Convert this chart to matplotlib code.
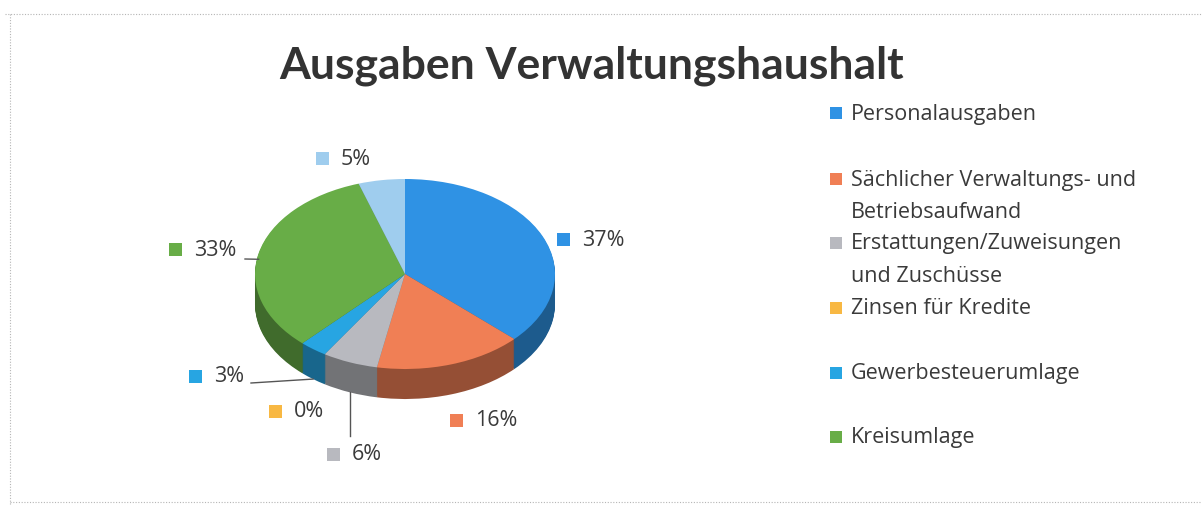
import numpy as np
import matplotlib
matplotlib.use("Agg")
import matplotlib.pyplot as plt
from matplotlib.patches import Rectangle
from matplotlib.colors import to_rgb

# Daten
kategorien = ["Personalausgaben",
              "Sächlicher Verwaltungs- und\nBetriebsaufwand",
              "Erstattungen/Zuweisungen\nund Zuschüsse",
              "Zinsen für Kredite",
              "Gewerbesteuerumlage",
              "Kreisumlage",
              "Sonstige"]
werte = [37, 16, 6, 0, 3, 33, 5]
farben = ["#2f92e4", "#f07f55", "#b8b9bf", "#f8b843", "#27a5e2", "#68ad47", "#9fcdee"]
im_legende = [True, True, True, True, True, True, False]

# Layout (Pixel)
W, H = 1202, 506
cx, cy = 405, 275      # Mitte der Oberseite
rx, ry = 150, 95       # Halbachsen
tiefe = 30
label_pos = [(563, 240), (456, 421), (333, 455), (275, 412), (195, 377), (175, 250), (322, 159)]
legende_y = [114, 180, 244, 309, 374, 438]

txt = "#3a3a3a"
font = "Open Sans"

fig = plt.figure(figsize=(W / 100, H / 100), dpi=100)
fig.patch.set_facecolor("white")

# Torte: Achse so skaliert, dass Radius 1 = rx bzw. ry Pixel
ax = fig.add_axes([0, 0, 1, 1])
ax.axis("off")

def dunkler(c, f=0.62):
    r, g, b = to_rgb(c)
    return (r * f, g * f, b * f)

seiten = [dunkler(c) for c in farben]
schichten = np.linspace(-tiefe / ry, 0, tiefe + 1)
for dy in schichten[:-1]:
    ax.pie(werte, colors=seiten, startangle=90, counterclock=False,
           center=(0, dy), radius=1, wedgeprops=dict(linewidth=0))
ax.pie(werte, colors=farben, startangle=90, counterclock=False,
       center=(0, 0), radius=1, wedgeprops=dict(linewidth=0))
ax.set_xlim(-cx / rx, (W - cx) / rx)
ax.set_ylim(-(H - cy) / ry, cy / ry)
ax.set_aspect("auto")

# Overlay in Pixelkoordinaten
ov = fig.add_axes([0, 0, 1, 1])
ov.set_xlim(0, W)
ov.set_ylim(H, 0)
ov.axis("off")
ov.patch.set_visible(False)

# Rahmen
rand = dict(color="#b5b5b5", lw=0.8, ls=(0, (1, 1.5)))
ov.plot([5, W], [15, 15], **rand)
ov.plot([10, 10], [15, H], **rand)
ov.plot([10, W], [503, 503], **rand)

ov.text(592, 66, "Ausgaben Verwaltungshaushalt", ha="center", va="center",
        fontsize=32, fontweight="bold", family="Lato", color="#333333")

# Winkel der Segmente (im Uhrzeigersinn ab 12 Uhr)
anteile = np.array(werte) / sum(werte)
grenzen = np.concatenate([[0], np.cumsum(anteile)]) * 2 * np.pi
mitte = (grenzen[:-1] + grenzen[1:]) / 2

def rand_punkt(a, unten=0):
    return cx + rx * np.sin(a), cy - ry * np.cos(a) + unten

# Datenbeschriftungen
for i, (x, y) in enumerate(label_pos):
    ov.add_patch(Rectangle((x - 6.5, y - 6.5), 13, 13, color=farben[i], lw=0))
    ov.text(x + 19, y, f"{werte[i]}%", ha="left", va="center",
            fontsize=15.5, family=font, color=txt)

# Führungslinien
px, py = rand_punkt(mitte[2], tiefe)
ov.plot([px, px], [py, label_pos[2][1] - 18], color="#555555", lw=1)
px, py = rand_punkt(mitte[4], tiefe)
ov.plot([label_pos[4][0] + 56, px], [label_pos[4][1] + 7, py], color="#555555", lw=1)
px, py = rand_punkt(mitte[5], 6)
ov.plot([label_pos[5][0] + 70, px], [label_pos[5][1] + 10, py], color="#555555", lw=1)

# Legende
j = 0
for i, name in enumerate(kategorien):
    if not im_legende[i]:
        continue
    y = legende_y[j]
    ov.add_patch(Rectangle((830, y - 6), 12, 12, color=farben[i], lw=0))
    for k, zeile in enumerate(name.split("\n")):
        ov.text(851, y + k * 32, zeile, ha="left", va="center",
                fontsize=15.5, family=font, color=txt)
    j += 1

fig.savefig("out.png", dpi=100)
